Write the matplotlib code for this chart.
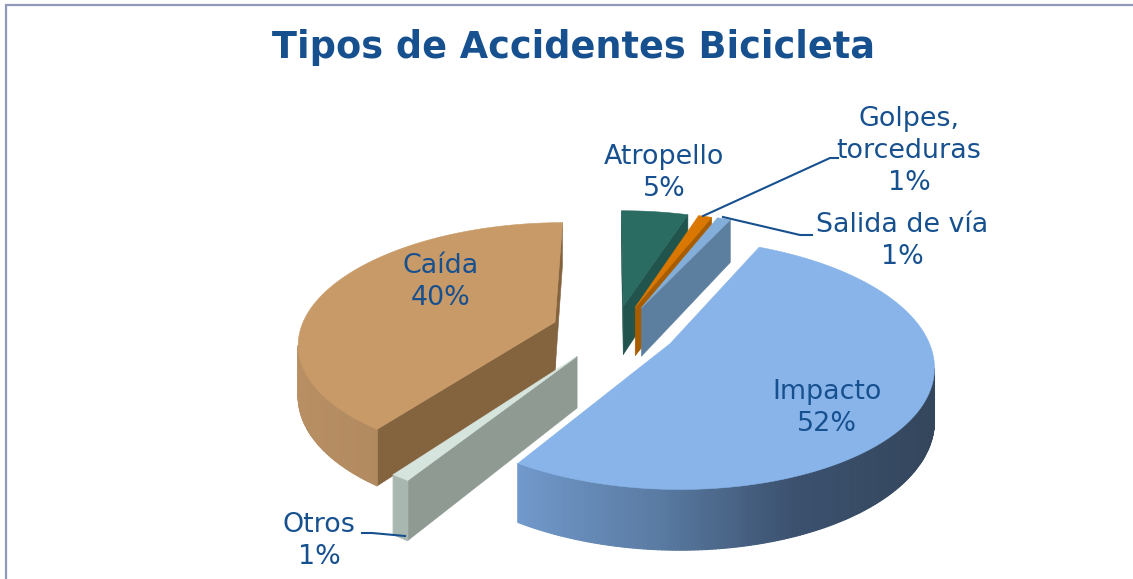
import numpy as np
import matplotlib
matplotlib.use('Agg')
import matplotlib.pyplot as plt
from matplotlib.colors import LinearSegmentedColormap
from matplotlib.patches import Polygon

# slices clockwise from the start angle
names = ['Impacto', 'Otros', 'Caída', 'Atropello', 'Golpes,\ntorceduras', 'Salida de vía']
values = [52, 1, 40, 5, 1, 1]
explode = [0.22, 0.25, 0.25, 0.22, 0.22, 0.22]

top_colors = ['#88b4e9', '#d6e4de', '#c89a68', '#2a6b62', '#d97700', '#82aed9']
cut_colors = ['#5f82a8', '#8f9a93', '#84633f', '#20544d', '#a85c00', '#5d7f9f']
rim_colors = [['#7199cb', '#5a7ba3', '#3b516e', '#34465c'],
              ['#a8b7b0', '#a8b7b0'],
              ['#b78f63', '#a87f57'],
              ['#20544d', '#20544d'],
              ['#a85c00', '#a85c00'],
              ['#5d7f9f', '#5d7f9f']]

start_angle = 65
cx, cy = 620, 331
sx, sy = 255, 118
persp = 0.16
depth = 50
text_color = '#17508f'
nudge_x = [0, -6, -5, -5, -3, 0]  # small sideways correction per slice


def project(u, v):
    w = 1 + persp * v
    return cx + sx * u / w, cy - sy * v / w, depth / w


def slice_outline(a1, a2, off, n):
    ang = np.radians(np.linspace(a1, a2, n))
    mid = np.radians((a1 + a2) / 2)
    ou, ov = off * np.cos(mid), off * np.sin(mid)
    return ou, ov, ou + np.cos(ang), ov + np.sin(ang)


fig = plt.figure(figsize=(11.33, 5.79), dpi=100)
ax = fig.add_axes([0, 0, 1, 1])
ax.set_xlim(0, 1133)
ax.set_ylim(579, 0)
ax.axis('off')

# frame on the top and left only
ax.plot([6, 6, 1133], [579, 5, 5], color='#8e99bc', lw=1.6, solid_joinstyle='miter')

angles = start_angle - np.cumsum([0] + values) * 3.6
order = [3, 4, 5, 2, 1, 0]  # far slices first

for i in order:
    a1, a2 = angles[i], angles[i + 1]
    n = max(int(abs(a1 - a2) * 1.5), 2)
    ou, ov, ru, rv = slice_outline(a1, a2, explode[i], n)
    ax_, ay_, ah = project(ou, ov)
    rx, ry, rh = project(ru, rv)
    ax_ += nudge_x[i]
    rx = rx + nudge_x[i]
    z = 2 + order.index(i) * 3

    # radial cut faces, only the ones turned to the viewer
    for (x1, y1, h1), (x2, y2, h2) in [((ax_, ay_, ah), (rx[0], ry[0], rh[0])),
                                       ((rx[-1], ry[-1], rh[-1]), (ax_, ay_, ah))]:
        if x2 < x1:
            ax.add_patch(Polygon([(x1, y1), (x2, y2), (x2, y2 + h2), (x1, y1 + h1)],
                                 fc=cut_colors[i], ec=cut_colors[i], lw=0.4,
                                 joinstyle='round', zorder=z))

    # outer wall with a shading along x
    cmap = LinearSegmentedColormap.from_list('rim', rim_colors[i])
    lo, hi = rx.min(), rx.max()
    for k in range(n - 1):
        if rx[k + 1] < rx[k]:
            t = (rx[k] - lo) / max(hi - lo, 1)
            c = cmap(t)
            ax.add_patch(Polygon([(rx[k], ry[k]), (rx[k + 1], ry[k + 1]),
                                  (rx[k + 1], ry[k + 1] + rh[k + 1]), (rx[k], ry[k] + rh[k])],
                                 fc=c, ec=c, lw=0.8, joinstyle='round', zorder=z))

    pts = [(ax_, ay_)] + list(zip(rx, ry))
    ax.add_patch(Polygon(pts, fc=top_colors[i], ec=top_colors[i], lw=0.4,
                         joinstyle='round', zorder=z + 1))

# leader lines
ax.plot([838, 830, 703], [158, 158, 216], color=text_color, lw=1.5, zorder=30)
ax.plot([812, 800, 723], [235, 235, 217], color=text_color, lw=1.5, zorder=30)
ax.plot([362, 372, 405], [533, 533, 536], color=text_color, lw=1.5, zorder=30)

# labels
pct = [f'{v}%' for v in values]
label_pos = [(827, 408), (319, 541), (441, 282), (664, 173), (909, 151), (902, 241)]
for name, p, (x, y) in zip(names, pct, label_pos):
    ax.text(x, y, f'{name}\n{p}', color=text_color, fontsize=19.4, ha='center', va='center',
            linespacing=1.28, family='DejaVu Sans', zorder=40)

ax.text(573, 48, 'Tipos de Accidentes Bicicleta', color=text_color, fontsize=26.4,
        fontweight='bold', ha='center', va='center', family='DejaVu Sans')

fig.savefig('out.png', dpi=100)
